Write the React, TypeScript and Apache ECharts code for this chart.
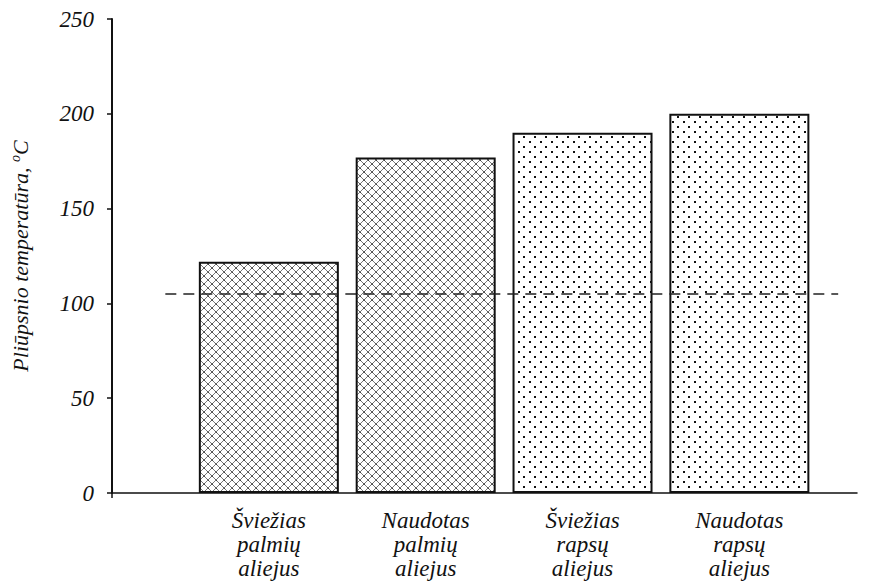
import React, { useEffect, useRef } from "react";
import * as echarts from "echarts";

const categories = [
  "Šviežias\npalmių\naliejus",
  "Naudotas\npalmių\naliejus",
  "Šviežias\nrapsų\naliejus",
  "Naudotas\nrapsų\naliejus",
];
const values = [122, 177, 190, 200];
const patternKinds = ["hatch", "hatch", "dots", "dots"];
const yTicks = [0, 50, 100, 150, 200, 250];
const threshold = 105;
const thresholdFrom = 0.34;
const thresholdTo = 4.63;

function makeHatch(): string {
  const c = document.createElement("canvas");
  c.width = 8;
  c.height = 8;
  const ctx = c.getContext("2d")!;
  ctx.fillStyle = "#ffffff";
  ctx.fillRect(0, 0, 8, 8);
  ctx.strokeStyle = "#777";
  ctx.lineWidth = 1;
  ctx.beginPath();
  ctx.moveTo(0, 0);
  ctx.lineTo(8, 8);
  ctx.moveTo(8, 0);
  ctx.lineTo(0, 8);
  ctx.stroke();
  ctx.fillStyle = "#222";
  ctx.fillRect(3.5, 3.5, 1.2, 1.2);
  ctx.fillRect(0, 0, 0.8, 0.8);
  ctx.fillRect(7.4, 7.4, 0.6, 0.6);
  return c.toDataURL();
}

function makeDots(): string {
  const c = document.createElement("canvas");
  c.width = 11;
  c.height = 10;
  const ctx = c.getContext("2d")!;
  ctx.fillStyle = "#ffffff";
  ctx.fillRect(0, 0, 11, 10);
  ctx.fillStyle = "#111";
  ctx.fillRect(1, 1, 2, 2);
  ctx.fillRect(6, 6, 2, 2);
  return c.toDataURL();
}

export default function App() {
  const ref = useRef<HTMLDivElement>(null);
  useEffect(() => {
    if (!ref.current) return;
    const chart = echarts.init(ref.current, undefined, { renderer: "svg" });
    const hatch = makeHatch();
    const dots = makeDots();
    const serif = "Liberation Serif";
    chart.setOption({
      animation: false,
      backgroundColor: "#ffffff",
      textStyle: { fontFamily: serif },
      grid: { left: 112, right: 15, top: 19, bottom: 94 },
      xAxis: {
        type: "value",
        min: 0,
        max: 4.75,
        interval: 1,
        splitLine: { show: false },
        axisLine: { show: true, lineStyle: { color: "#111", width: 1.5 } },
        axisTick: { show: true, customValues: [0], length: 5, lineStyle: { color: "#111", width: 1.5 } },
        axisLabel: {
          margin: 15,
          showMaxLabel: false,
          formatter: (v: number) => {
            const i = Math.round(v) - 1;
            return Math.abs(v - Math.round(v)) < 1e-6 && i >= 0 && i < categories.length ? categories[i] : "";
          },
          fontFamily: serif,
          fontStyle: "italic",
          fontSize: 23,
          lineHeight: 24,
          color: "#111",
        },
      },
      yAxis: {
        type: "value",
        min: yTicks[0],
        max: yTicks[yTicks.length - 1],
        interval: 50,
        splitLine: { show: false },
        axisLine: { show: true, lineStyle: { color: "#111", width: 2 } },
        axisTick: { show: true, inside: false, length: 5, lineStyle: { color: "#111", width: 1.5 } },
        axisLabel: {
          margin: 18,
          fontFamily: serif,
          fontStyle: "italic",
          fontSize: 23,
          color: "#111",
        },
        name: "{t|Pliūpsnio temperatūra, }{s|o}{t|C}",
        nameLocation: "middle",
        nameGap: 80,
        nameRotate: 90,
        nameTextStyle: {
          fontFamily: serif,
          rich: {
            t: { fontFamily: serif, fontStyle: "italic", fontSize: 22, color: "#111" },
            s: { fontFamily: serif, fontStyle: "italic", fontSize: 14, color: "#111", padding: [0, 0, 10, 0] },
          },
        },
      },
      series: [
        {
          type: "bar",
          barWidth: 140,
          data: values.map((v, i) => ({
            value: [i + 1, v],
            itemStyle: {
              color: { image: patternKinds[i] === "hatch" ? hatch : dots, repeat: "repeat" },
              borderColor: "#111",
              borderWidth: 2,
            },
          })),
          markLine: {
            silent: true,
            symbol: "none",
            label: { show: false },
            lineStyle: { color: "#222", width: 1.6, type: [11, 7] },
            data: [[{ coord: [thresholdFrom, threshold] }, { coord: [thresholdTo, threshold] }]],
          },
        },
      ],
    });
    return () => chart.dispose();
  }, []);
  return <div ref={ref} style={{ position: "fixed", left: 0, top: 0, width: 872, height: 587 }} />;
}
